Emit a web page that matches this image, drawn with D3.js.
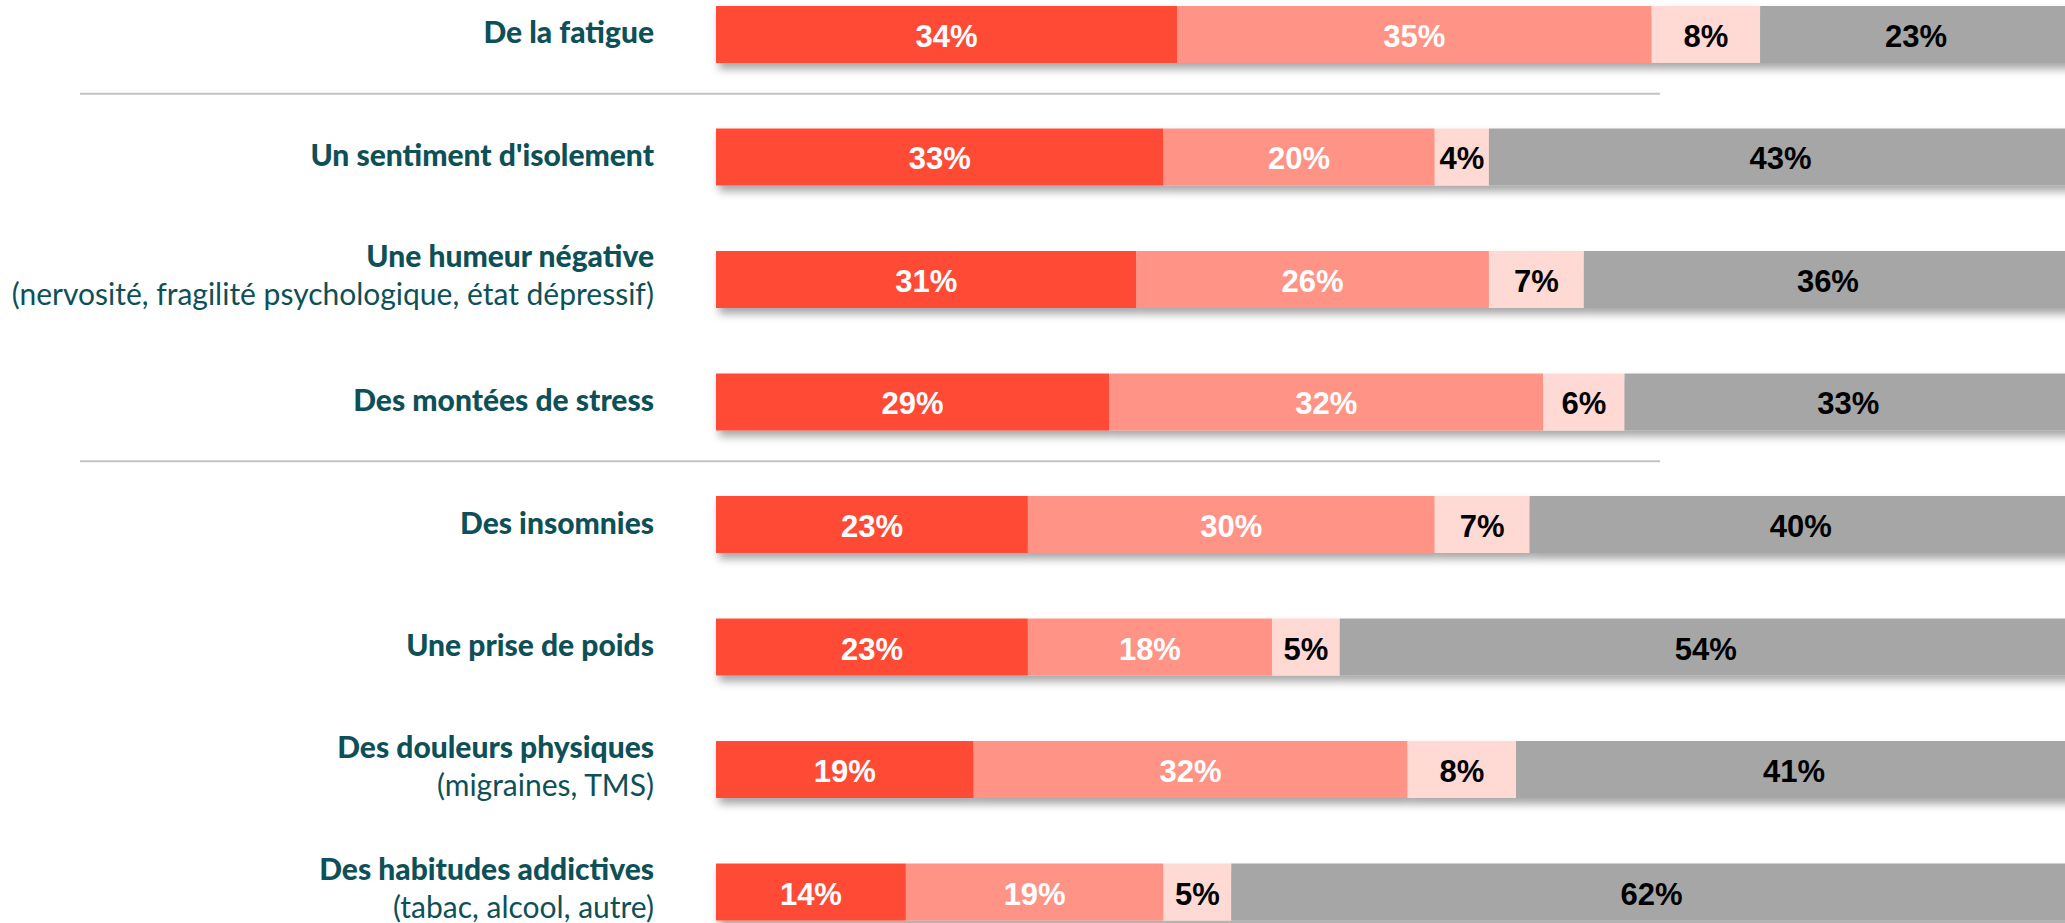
<!DOCTYPE html>
<html>
<head>
<meta charset="utf-8">
<script src="https://cdn.jsdelivr.net/npm/d3@7"></script>
<style>
  body { margin: 0; background: #fff; }
</style>
</head>
<body>
<script>
// data
var categories = ["De la fatigue", "Un sentiment d'isolement", "Une humeur négative", "Des montées de stress",
                  "Des insomnies", "Une prise de poids", "Des douleurs physiques", "Des habitudes addictives"];
var subtitles = ["", "", "(nervosité, fragilité psychologique, état dépressif)", "", "", "", "(migraines, TMS)", "(tabac, alcool, autre)"];
var seriesA = [34, 33, 31, 29, 23, 23, 19, 14];
var seriesB = [35, 20, 26, 32, 30, 18, 32, 19];
var seriesC = [8, 4, 7, 6, 7, 5, 8, 5];
var seriesD = [23, 43, 36, 33, 40, 54, 41, 62];
var separatorsAfter = [0, 3]; // row index after which a grey rule is drawn

var colors = ["#FF4B36", "#FF9386", "#FFDAD4", "#A6A6A6"];
var textColors = ["#fff", "#fff", "#000", "#000"];

var svgWidth = 2065, svgHeight = 923;

var svg = d3.select("body").append("svg").attr("width", svgWidth).attr("height", svgHeight);

var defs = svg.append("defs");
defs.append("filter").attr("id", "shadow")
    .attr("x", "-5%").attr("y", "-20%").attr("width", "110%").attr("height", "160%")
  .append("feDropShadow")
    .attr("dx", 3).attr("dy", 6).attr("stdDeviation", 4)
    .attr("flood-color", "#000").attr("flood-opacity", 0.35);

// scales
var x = d3.scaleLinear().domain([0, 100]).range([716, 2072]);
var y = d3.scaleBand().domain(categories).range([6, 920.5]).paddingInner(0.535).paddingOuter(0);

// build stacked rows
var rows = categories.map(function(c, i) {
  return {cat: c, sub: subtitles[i], vals: [seriesA[i], seriesB[i], seriesC[i], seriesD[i]]};
});
var keys = [0, 1, 2, 3];
var stack = d3.stack().keys(keys).value(function(d, k) { return d.vals[k]; });
var layers = stack(rows);

// separator lines
var step = y.step();
svg.selectAll(".sep")
    .data(separatorsAfter)
  .enter().append("line")
    .attr("x1", 80).attr("x2", 1660)
    .attr("y1", function(i) { return y(categories[i]) + y.bandwidth() + (step - y.bandwidth()) / 2 - 2; })
    .attr("y2", function(i) { return y(categories[i]) + y.bandwidth() + (step - y.bandwidth()) / 2 - 2; })
    .attr("stroke", "#c3c3c3").attr("stroke-width", 2);

// bars, one group per row so the shadow falls under the whole bar
var rowG = svg.selectAll(".row")
    .data(rows)
  .enter().append("g")
    .attr("class", "row")
    .attr("filter", "url(#shadow)");

rowG.each(function(r, i) {
  var g = d3.select(this);
  layers.forEach(function(layer, k) {
    var seg = layer[i];
    g.append("rect")
      .attr("x", x(seg[0]))
      .attr("y", y(r.cat))
      .attr("width", x(seg[1]) - x(seg[0]))
      .attr("height", y.bandwidth())
      .attr("fill", colors[k]);
  });
});

// value labels
layers.forEach(function(layer, k) {
  svg.selectAll(".val" + k)
      .data(layer)
    .enter().append("text")
      .attr("x", function(d) { return (x(d[0]) + x(d[1])) / 2; })
      .attr("y", function(d) { return y(d.data.cat) + y.bandwidth() / 2 + 2; })
      .attr("dominant-baseline", "central")
      .attr("text-anchor", "middle")
      .attr("font-family", "'Liberation Sans', Arial, sans-serif")
      .attr("font-weight", "bold")
      .attr("font-size", "31px")
      .attr("fill", textColors[k])
      .text(function(d) { return d.data.vals[k] + "%"; });
});

// category labels
var labelX = 654;
var lab = svg.selectAll(".cat")
    .data(rows)
  .enter().append("g");

lab.append("text")
    .attr("x", labelX)
    .attr("y", function(d) { var c = y(d.cat) + y.bandwidth() / 2; return d.sub ? c - 24 : c - 3; })
    .attr("dominant-baseline", "central")
    .attr("text-anchor", "end")
    .attr("font-family", "Lato, 'Open Sans', sans-serif")
    .attr("font-weight", "900")
    .attr("font-size", "30px")
    .attr("fill", "#0E5058")
    .text(function(d) { return d.cat; });

lab.filter(function(d) { return d.sub; }).append("text")
    .attr("x", labelX)
    .attr("y", function(d) { return y(d.cat) + y.bandwidth() / 2 + 14; })
    .attr("dominant-baseline", "central")
    .attr("text-anchor", "end")
    .attr("font-family", "Lato, 'Open Sans', sans-serif")
    .attr("font-size", "30px")
    .attr("fill", "#0E5058")
    .text(function(d) { return d.sub; });
</script>
</body>
</html>
